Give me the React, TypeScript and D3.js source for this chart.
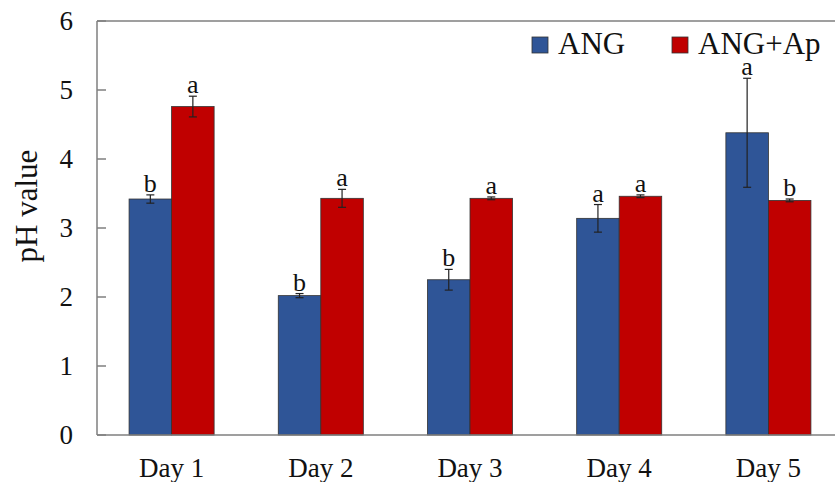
import * as d3 from 'd3';
import { useEffect, useRef } from 'react';

const days = ['Day 1', 'Day 2', 'Day 3', 'Day 4', 'Day 5'];
const seriesNames = ['ANG', 'ANG+Ap'];
const angValues = [3.42, 2.02, 2.25, 3.14, 4.38];
const angErrors = [0.06, 0.03, 0.15, 0.2, 0.79];
const angLetters = ['b', 'b', 'b', 'a', 'a'];
const apValues = [4.76, 3.43, 3.43, 3.46, 3.4];
const apErrors = [0.15, 0.13, 0.02, 0.02, 0.02];
const apLetters = ['a', 'a', 'a', 'a', 'b'];
const yTicks = [0, 1, 2, 3, 4, 5, 6];
const colors = ['#2F5597', '#C00000'];

function App() {
  const ref = useRef<SVGSVGElement>(null);

  useEffect(() => {
    const W = 835, H = 482;
    const left = 97, right = 843, top = 21, bottom = 435;
    const font = '"Liberation Serif", "Times New Roman", serif';

    const svg = d3.select(ref.current);
    svg.selectAll('*').remove();

    const x = d3.scaleBand<string>()
      .domain(days)
      .range([left, right])
      .paddingInner(0.43)
      .paddingOuter(0.215);
    const xs = d3.scaleBand<string>()
      .domain(seriesNames)
      .range([0, x.bandwidth()]);
    const y = d3.scaleLinear().domain([0, 6]).range([bottom, top]);

    const series = [
      { name: seriesNames[0], values: angValues, errors: angErrors, letters: angLetters },
      { name: seriesNames[1], values: apValues, errors: apErrors, letters: apLetters },
    ];

    // bars
    series.forEach((s, si) => {
      const g = svg.append('g');
      days.forEach((d, i) => {
        const bx = (x(d) ?? 0) + (xs(s.name) ?? 0);
        const v = s.values[i];
        g.append('rect')
          .attr('x', bx)
          .attr('y', y(v))
          .attr('width', xs.bandwidth())
          .attr('height', y(0) - y(v))
          .attr('fill', colors[si])
          .attr('stroke', '#333')
          .attr('stroke-width', 0.8);
      });
    });

    // error bars + letters
    series.forEach((s) => {
      days.forEach((d, i) => {
        const cx = (x(d) ?? 0) + (xs(s.name) ?? 0) + xs.bandwidth() / 2;
        const hi = y(s.values[i] + s.errors[i]);
        const lo = y(s.values[i] - s.errors[i]);
        const g = svg.append('g').attr('stroke', '#222').attr('stroke-width', 1.2);
        g.append('line').attr('x1', cx).attr('x2', cx).attr('y1', hi).attr('y2', lo);
        g.append('line').attr('x1', cx - 4).attr('x2', cx + 4).attr('y1', hi).attr('y2', hi);
        g.append('line').attr('x1', cx - 4).attr('x2', cx + 4).attr('y1', lo).attr('y2', lo);
        svg.append('text')
          .attr('x', cx)
          .attr('y', hi - 3)
          .attr('text-anchor', 'middle')
          .attr('font-family', font)
          .attr('font-size', 26)
          .attr('fill', '#111')
          .text(s.letters[i]);
      });
    });

    // frame / axes
    const axis = svg.append('g').attr('stroke', '#7f7f7f').attr('stroke-width', 1.5).attr('fill', 'none');
    axis.append('line').attr('x1', left).attr('x2', right).attr('y1', top).attr('y2', top);
    axis.append('line').attr('x1', left).attr('x2', left).attr('y1', top).attr('y2', bottom);
    axis.append('line').attr('x1', left).attr('x2', right).attr('y1', bottom).attr('y2', bottom);
    axis.append('line').attr('x1', right).attr('x2', right).attr('y1', top).attr('y2', bottom);

    yTicks.forEach((t) => {
      axis.append('line')
        .attr('x1', left).attr('x2', left + 9)
        .attr('y1', y(t)).attr('y2', y(t));
      svg.append('text')
        .attr('x', 73)
        .attr('y', y(t))
        .attr('dy', '0.35em')
        .attr('text-anchor', 'end')
        .attr('font-family', font)
        .attr('font-size', 27)
        .attr('fill', '#111')
        .text(t);
    });

    days.forEach((d) => {
      svg.append('text')
        .attr('x', (x(d) ?? 0) + x.bandwidth() / 2)
        .attr('y', 477)
        .attr('text-anchor', 'middle')
        .attr('font-family', font)
        .attr('font-size', 27)
        .attr('fill', '#111')
        .text(d);
    });

    svg.append('text')
      .attr('transform', 'translate(37, 206) rotate(-90)')
      .attr('text-anchor', 'middle')
      .attr('font-family', font)
      .attr('font-size', 31)
      .attr('fill', '#111')
      .text('pH value');

    // legend
    const legendX = [532, 672];
    seriesNames.forEach((n, i) => {
      svg.append('rect')
        .attr('x', legendX[i]).attr('y', 37)
        .attr('width', 16).attr('height', 16)
        .attr('fill', colors[i])
        .attr('stroke', '#333').attr('stroke-width', 0.8);
      svg.append('text')
        .attr('x', legendX[i] + 26).attr('y', 54)
        .attr('font-family', font)
        .attr('font-size', 31)
        .attr('fill', '#111')
        .text(n);
    });

    svg.attr('width', W).attr('height', H);
  }, []);

  return <svg ref={ref} width={835} height={482} style={{ position: 'absolute', left: 0, top: 0, background: '#fff' }} />;
}

export default App;
